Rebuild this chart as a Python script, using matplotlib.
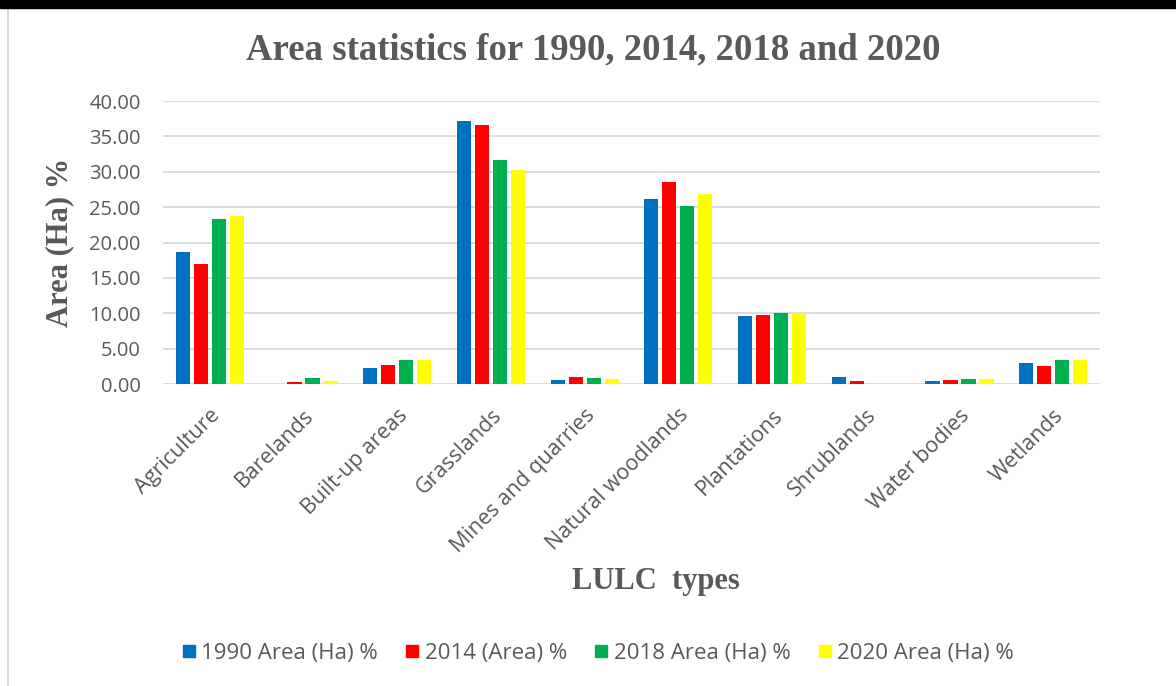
import matplotlib
matplotlib.use("Agg")
import matplotlib.pyplot as plt
import numpy as np
from matplotlib.patches import Rectangle
from matplotlib.lines import Line2D

categories = ["Agriculture", "Barelands", "Built-up areas", "Grasslands",
              "Mines and quarries", "Natural woodlands", "Plantations",
              "Shrublands", "Water bodies", "Wetlands"]
series_names = ["1990 Area (Ha) %", "2014 (Area) %", "2018 Area (Ha) %", "2020 Area (Ha) %"]
v1990 = [18.7, 0.0, 2.3, 37.2, 0.56, 26.2, 9.6, 1.04, 0.42, 2.97]
v2014 = [16.96, 0.24, 2.7, 36.6, 0.99, 28.5, 9.75, 0.47, 0.5, 2.6]
v2018 = [23.3, 0.8, 3.4, 31.7, 0.8, 25.2, 10.0, 0.0, 0.7, 3.35]
v2020 = [23.7, 0.42, 3.4, 30.3, 0.75, 26.8, 10.0, 0.0, 0.75, 3.35]
yticks = [0, 5, 10, 15, 20, 25, 30, 35, 40]

colors = ["#0070C0", "#FF0000", "#00B050", "#FFFF00"]
gray = "#595959"
sans = "Open Sans"
serif = "Liberation Serif"

fig = plt.figure(figsize=(11.76, 6.86), dpi=100)
ax = fig.add_axes([163/1176, 1-384/686, (1100-163)/1176, (384-101)/686])

x = np.arange(len(categories))
step = 0.192
for i, (vals, c, name) in enumerate(zip([v1990, v2014, v2018, v2020], colors, series_names)):
    ax.bar(x + (i - 1.5) * step, vals, width=0.152, color=c, label=name, zorder=3)

ax.set_xlim(-0.5, len(categories) - 0.5)
ax.set_ylim(0, 40)
ax.set_yticks(yticks)
ax.set_yticklabels([f"{t:.2f}" for t in yticks], fontfamily=sans, fontsize=14.5, color=gray)
ax.set_xticks(x)
ax.set_xticklabels(categories, rotation=45, ha="right", rotation_mode="anchor",
                   fontfamily=sans, fontsize=15.5, color=gray)
ax.tick_params(axis="both", length=0)
ax.tick_params(axis="y", pad=16)
ax.tick_params(axis="x", pad=15)
ax.grid(axis="y", color="#d9d9d9", linewidth=1.3, zorder=0)
for s in ax.spines.values():
    s.set_visible(False)

fig.text(593/1176, 1-50/686, "Area statistics for 1990, 2014, 2018 and 2020",
         ha="center", va="center", fontfamily=serif, fontweight="bold", fontsize=26.5, color=gray)
fig.text(60/1176, 1-242/686, "Area (Ha) %", rotation=90, ha="center", va="center",
         fontfamily=serif, fontweight="bold", fontsize=22, color=gray)
fig.text(656/1176, 1-582/686, "LULC  types", ha="center", va="center",
         fontfamily=serif, fontweight="bold", fontsize=22, color=gray)

handles = [Line2D([], [], marker="s", linestyle="none", markersize=9,
                  markerfacecolor=c, markeredgecolor=c) for c in colors]
leg = fig.legend(handles, series_names, loc="center", bbox_to_anchor=(598/1176, 1-653/686),
                 ncol=4, frameon=False, handlelength=0.6, handletextpad=0.25,
                 columnspacing=1.25, prop={"family": sans, "size": 16})
for t in leg.get_texts():
    t.set_color(gray)

fig.patches.append(Rectangle((0, 1-8/686), 1, 8/686, transform=fig.transFigure,
                             color="black", zorder=10))
fig.lines.append(Line2D([8/1176, 8/1176], [0, 1-8/686], transform=fig.transFigure,
                        color="#d0d0d0", linewidth=1.2))

fig.savefig("out.png", dpi=100)
